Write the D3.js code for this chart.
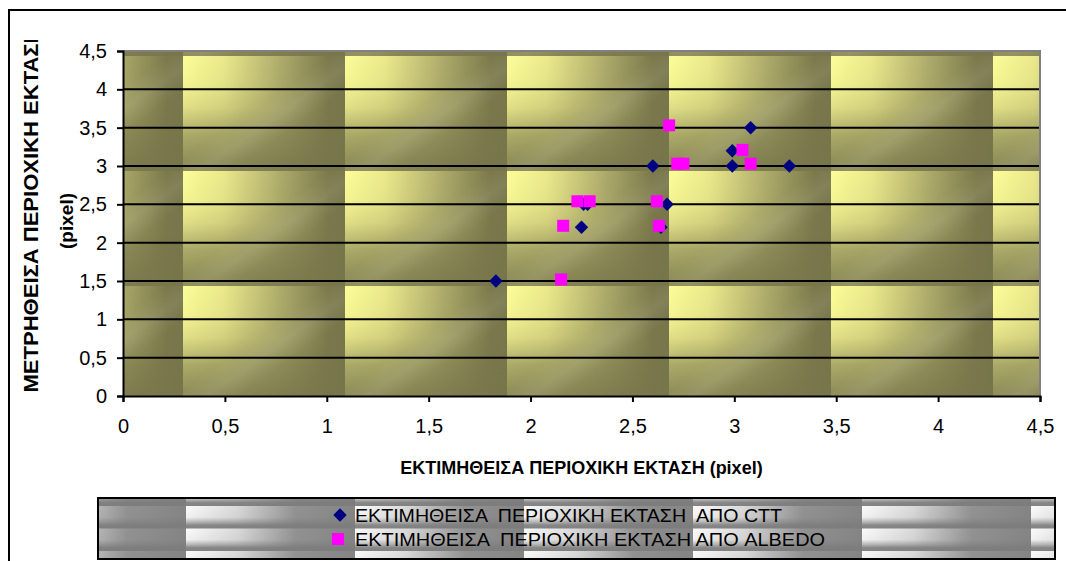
<!DOCTYPE html>
<html>
<head>
<meta charset="utf-8">
<script src="https://cdn.jsdelivr.net/npm/d3@7"></script>
<style>
  html, body { margin: 0; padding: 0; background: #ffffff; }
  svg { display: block; font-family: "Liberation Sans", Arial, sans-serif; }
</style>
</head>
<body>
<svg id="chart" width="1066" height="561"></svg>
<script>
// Estimated vs. measured regional extent (pixels), two estimation methods
const cttX = [1.83, 2.25, 2.26, 2.28, 2.60, 2.64, 2.67, 2.99, 2.99, 3.08, 3.27];
const cttY = [1.50, 2.20, 2.50, 2.50, 3.00, 2.20, 2.50, 3.00, 3.20, 3.50, 3.00];
const albedoX = [2.15, 2.16, 2.23, 2.29, 2.62, 2.63, 2.68, 2.72, 2.75, 3.04, 3.08];
const albedoY = [1.52, 2.22, 2.54, 2.54, 2.54, 2.22, 3.53, 3.03, 3.03, 3.21, 3.03];

const xTicks = [0, 0.5, 1, 1.5, 2, 2.5, 3, 3.5, 4, 4.5];
const yTicks = [0, 0.5, 1, 1.5, 2, 2.5, 3, 3.5, 4, 4.5];

const seriesNames = [
  "ΕΚΤΙΜΗΘΕΙΣΑ  ΠΕΡΙΟΧΙΚΗ ΕΚΤΑΣΗ  ΑΠΟ CTT",
  "ΕΚΤΙΜΗΘΕΙΣΑ  ΠΕΡΙΟΧΙΚΗ ΕΚΤΑΣΗ ΑΠΟ ALBEDO"
];
const xTitle = "ΕΚΤΙΜΗΘΕΙΣΑ ΠΕΡΙΟΧΙΚΗ ΕΚΤΑΣΗ (pixel)";
const yTitle = ["ΜΕΤΡΗΘΕΙΣΑ ΠΕΡΙΟΧΙΚΗ ΕΚΤΑΣΗ", "(pixel)"];

const svg = d3.select("#chart");
const defs = svg.append("defs");

const plot = { left: 123, right: 1040, top: 51, bottom: 396 };
const x = d3.scaleLinear().domain([0, 4.5]).range([plot.left, plot.right]);
const y = d3.scaleLinear().domain([0, 4.5]).range([plot.bottom, plot.top]);
const fmt = d => String(d).replace(".", ",");

// ---- textures ----
function gradient(id, x2, y2, stops) {
  const g = defs.append("linearGradient").attr("id", id)
    .attr("x1", 0).attr("y1", 0).attr("x2", x2).attr("y2", y2);
  stops.forEach(([o, c, a]) => g.append("stop").attr("offset", o)
    .attr("stop-color", c).attr("stop-opacity", a == null ? 1 : a));
}
// olive tile for the plot area
gradient("oliveH", 1, 0, [[0, "#fdfd98"], [0.25, "#ebe98b"], [0.6, "#aeac6b"], [0.9, "#7b794b"], [1, "#77754a"]]);
gradient("oliveV", 0, 1, [[0, "#77754a", 0], [0.25, "#77754a", 0.06], [0.45, "#77754a", 0.22], [0.68, "#77754a", 0.6], [0.9, "#77754a", 0.8], [1, "#77754a", 0.85]]);
gradient("oliveSheen", 1, 1, [[0, "#ffffff", 0], [0.45, "#ffffff", 0], [0.55, "#ffffff", 0.08], [0.65, "#ffffff", 0], [1, "#ffffff", 0]]);
const tw = 162, th = 115;
const pat = defs.append("pattern").attr("id", "oliveTile")
  .attr("patternUnits", "userSpaceOnUse")
  .attr("x", 21).attr("y", 56).attr("width", tw).attr("height", th);
pat.append("rect").attr("width", tw).attr("height", th).attr("fill", "url(#oliveH)");
pat.append("rect").attr("width", tw).attr("height", th).attr("fill", "url(#oliveV)");
pat.append("rect").attr("width", tw).attr("height", th).attr("fill", "url(#oliveSheen)");

// grey metallic tile for the legend
gradient("greyH", 1, 0, [[0, "#fbfbfb"], [0.3, "#dadada"], [0.65, "#929292"], [1, "#848484"]]);
gradient("greyV", 0, 1, [[0, "#7c7c7c", 0], [0.5, "#7c7c7c", 0.08], [0.72, "#7c7c7c", 0.55], [0.85, "#7c7c7c", 0.9], [1, "#7c7c7c", 0.95]]);
const lw = 169, lh = 22.5;
const lpat = defs.append("pattern").attr("id", "greyTile")
  .attr("patternUnits", "userSpaceOnUse")
  .attr("x", 17).attr("y", 506).attr("width", lw).attr("height", lh);
lpat.append("rect").attr("width", lw).attr("height", lh).attr("fill", "url(#greyH)");
lpat.append("rect").attr("width", lw).attr("height", lh).attr("fill", "url(#greyV)");

// ---- chart frame ----
svg.append("rect").attr("x", 9).attr("y", 10).attr("width", 1080).attr("height", 600)
  .attr("fill", "#ffffff").attr("stroke", "#000000").attr("stroke-width", 2);

// ---- plot area ----
svg.append("rect")
  .attr("x", plot.left).attr("y", plot.top)
  .attr("width", plot.right - plot.left).attr("height", plot.bottom - plot.top)
  .attr("fill", "url(#oliveTile)");

// horizontal gridlines
svg.append("g").selectAll("line")
  .data(yTicks.filter(v => v > 0 && v < 4.5))
  .join("line")
  .attr("x1", plot.left).attr("x2", plot.right)
  .attr("y1", d => y(d)).attr("y2", d => y(d))
  .attr("stroke", "#000000").attr("stroke-width", 2);

// plot border (top / right)
svg.append("path")
  .attr("d", `M${plot.left},${plot.top} H${plot.right} V${plot.bottom}`)
  .attr("fill", "none").attr("stroke", "#808080").attr("stroke-width", 2);

// ---- axes ----
const xAxis = svg.append("g").attr("transform", `translate(0,${plot.bottom})`)
  .call(d3.axisBottom(x).tickValues(xTicks).tickFormat(fmt).tickSize(6).tickPadding(17));
const yAxis = svg.append("g").attr("transform", `translate(${plot.left},0)`)
  .call(d3.axisLeft(y).tickValues(yTicks).tickFormat(fmt).tickSize(6).tickPadding(10));
[xAxis, yAxis].forEach(a => {
  a.select(".domain").attr("stroke", "#000000").attr("stroke-width", 2);
  a.selectAll(".tick line").attr("stroke", "#000000").attr("stroke-width", 2);
  a.selectAll(".tick text").attr("fill", "#000000")
    .style("font-family", "'Liberation Sans', Arial, sans-serif").style("font-size", "20px");
});

// ---- axis titles ----
svg.append("text")
  .attr("x", (plot.left + plot.right) / 2).attr("y", 474)
  .attr("text-anchor", "middle")
  .style("font-size", "18px").style("font-weight", "bold")
  .text(xTitle);

defs.append("clipPath").attr("id", "yTitleClip")
  .append("rect").attr("x", 0).attr("y", 40).attr("width", 110).attr("height", 400);
const yt = svg.append("g").attr("clip-path", "url(#yTitleClip)");
yt.append("text")
  .attr("transform", "translate(38,210) rotate(-90)")
  .attr("text-anchor", "middle")
  .attr("textLength", 365).attr("lengthAdjust", "spacingAndGlyphs")
  .style("font-size", "21px").style("font-weight", "bold")
  .text(yTitle[0]);
yt.append("text")
  .attr("transform", "translate(73,221) rotate(-90)")
  .attr("text-anchor", "middle")
  .style("font-size", "19px").style("font-weight", "bold")
  .text(yTitle[1]);

// ---- markers ----
const diamond = d3.symbol().type(d3.symbolDiamond2).size(115);
const cttPts = cttX.map((v, i) => [v, cttY[i]]);
const albPts = albedoX.map((v, i) => [v, albedoY[i]]);

svg.append("g").selectAll("path")
  .data(cttPts).join("path")
  .attr("transform", d => `translate(${x(d[0])},${y(d[1])})`)
  .attr("d", diamond)
  .attr("fill", "#000080");

const sq = 12;
svg.append("g").selectAll("rect")
  .data(albPts).join("rect")
  .attr("x", d => x(d[0]) - sq / 2).attr("y", d => y(d[1]) - sq / 2)
  .attr("width", sq).attr("height", sq)
  .attr("fill", "#ff00ff");

// ---- legend ----
const lg = svg.append("g");
lg.append("rect").attr("x", 98).attr("y", 498).attr("width", 957).attr("height", 61)
  .attr("fill", "url(#greyTile)").attr("stroke", "#000000").attr("stroke-width", 2);
const legendRows = [
  { name: seriesNames[0], cy: 515, kind: "diamond", len: 427 },
  { name: seriesNames[1], cy: 539, kind: "square", len: 470 }
];
legendRows.forEach(r => {
  if (r.kind === "diamond") {
    lg.append("path").attr("transform", `translate(340,${r.cy})`)
      .attr("d", diamond).attr("fill", "#000080");
  } else {
    lg.append("rect").attr("x", 332).attr("y", r.cy - 6).attr("width", 12).attr("height", 12)
      .attr("fill", "#ff00ff");
  }
  lg.append("text")
    .attr("x", 355).attr("y", r.cy + 6.5)
    .attr("textLength", r.len).attr("lengthAdjust", "spacingAndGlyphs")
    .attr("xml:space", "preserve")
    .style("white-space", "pre")
    .style("font-size", "18px")
    .text(r.name);
});
</script>
</body>
</html>
